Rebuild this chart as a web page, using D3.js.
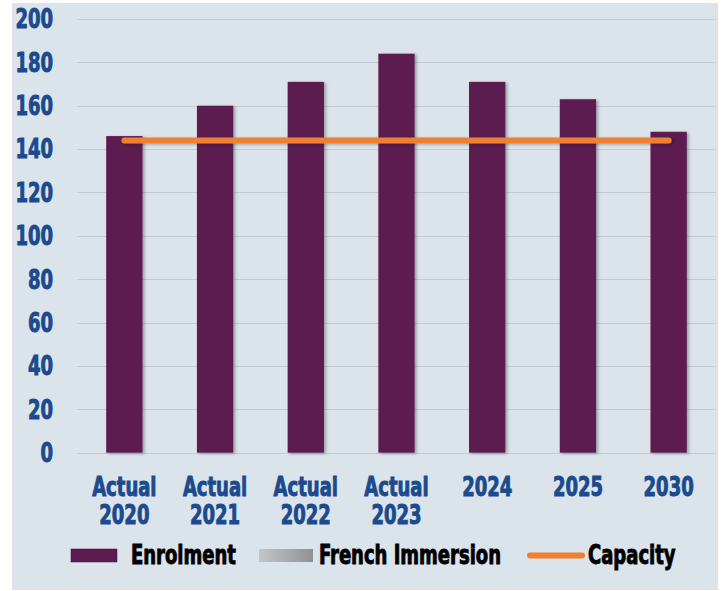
<!DOCTYPE html>
<html><head><meta charset="utf-8">
<script src="https://cdn.jsdelivr.net/npm/d3@7"></script>
<style>
html,body{margin:0;padding:0;background:#fff;}
svg{display:block;}
</style></head>
<body>
<svg id="chart" width="722" height="591"></svg>
<script>
const categories = [["Actual","2020"],["Actual","2021"],["Actual","2022"],["Actual","2023"],["2024"],["2025"],["2030"]];
const enrolment = [146, 160, 171, 184, 171, 163, 148];
const capacity = [144, 144, 144, 144, 144, 144, 144];
const yTicks = [0, 20, 40, 60, 80, 100, 120, 140, 160, 180, 200];
const legendLabels = ["Enrolment", "French Immersion", "Capacity"];

const FONT = "'DejaVu Sans Condensed', 'DejaVu Sans', sans-serif";
const SX = 0.77;

const svg = d3.select("#chart");
const defs = svg.append("defs");
const grad = defs.append("linearGradient").attr("id","gray").attr("x1",0).attr("x2",1).attr("y1",0).attr("y2",0);
grad.append("stop").attr("offset","0%").attr("stop-color","#c4c6c9");
grad.append("stop").attr("offset","100%").attr("stop-color","#8f9194");
const sh = defs.append("filter").attr("id","shadow").attr("filterUnits","userSpaceOnUse")
  .attr("x",0).attr("y",0).attr("width",722).attr("height",591);
sh.append("feDropShadow").attr("dx",2).attr("dy",1).attr("stdDeviation",1.5).attr("flood-color","#000").attr("flood-opacity",0.3);

svg.append("rect").attr("x",12).attr("y",3).attr("width",706).attr("height",587).attr("fill","#dbe3eb");

const x = d3.scaleBand().domain(categories.map((c,i)=>i)).range([79, 714]).paddingInner(0.6).paddingOuter(0.3);
const y = d3.scaleLinear().domain([0, 200]).range([452.7, 19]);

// gridlines
svg.append("g").selectAll("line").data(yTicks).join("line")
  .attr("x1",77).attr("x2",716)
  .attr("y1",d=>Math.round(y(d))+0.5).attr("y2",d=>Math.round(y(d))+0.5)
  .attr("stroke","#c3cad3").attr("stroke-width",1);

// y labels
svg.append("g").selectAll("text").data(yTicks).join("text")
  .attr("transform",d=>`translate(53,${y(d)}) scale(${SX},1)`)
  .attr("dy","0.36em")
  .attr("text-anchor","end")
  .attr("font-family",FONT)
  .attr("font-weight","bold").attr("font-size",26)
  .attr("fill","#1b4a8d").attr("stroke","#1b4a8d").attr("stroke-width",0.9)
  .text(d=>d);

// bars
svg.append("g").attr("filter","url(#shadow)").selectAll("rect").data(enrolment).join("rect")
  .attr("x",(d,i)=>x(i)).attr("width",x.bandwidth())
  .attr("y",d=>y(d)).attr("height",d=>y(0)-y(d))
  .attr("fill","#5c1a50");

// capacity line
const line = d3.line().x((d,i)=>x(i)+x.bandwidth()/2).y(d=>y(d));
svg.append("path").datum(capacity).attr("d",line)
  .attr("fill","none").attr("stroke","#ef8030").attr("stroke-width",6)
  .attr("stroke-linecap","round").attr("filter","url(#shadow)");

// x labels
const xl = svg.append("g").selectAll("text").data(categories).join("text")
  .attr("transform",(d,i)=>`translate(${x(i)+x.bandwidth()/2},496) scale(${SX},1)`)
  .attr("text-anchor","middle")
  .attr("font-family",FONT)
  .attr("font-weight","bold").attr("font-size",26)
  .attr("fill","#1b4a8d").attr("stroke","#1b4a8d").attr("stroke-width",0.9);
xl.selectAll("tspan").data(d=>d).join("tspan")
  .attr("x",0)
  .attr("dy",(d,i)=>i===0?0:28.5)
  .text(d=>d);

// legend
const lg = svg.append("g");
lg.append("rect").attr("x",71).attr("y",549).attr("width",46).attr("height",13).attr("fill","#5c1a50").attr("stroke","#3d0f35").attr("stroke-width",0.5);
lg.append("rect").attr("x",259).attr("y",549).attr("width",54).attr("height",13).attr("fill","url(#gray)");
lg.append("line").attr("x1",530).attr("x2",582).attr("y1",555.5).attr("y2",555.5).attr("stroke","#ef8030").attr("stroke-width",6).attr("stroke-linecap","round");
const lx = [131, 319, 588];
lg.selectAll("text").data(legendLabels).join("text")
  .attr("transform",(d,i)=>`translate(${lx[i]},564) scale(${SX},1)`)
  .attr("font-family",FONT).attr("font-weight","bold").attr("font-size",26)
  .attr("fill","#000").attr("stroke","#000").attr("stroke-width",0.9)
  .text(d=>d);
</script>
</body></html>
